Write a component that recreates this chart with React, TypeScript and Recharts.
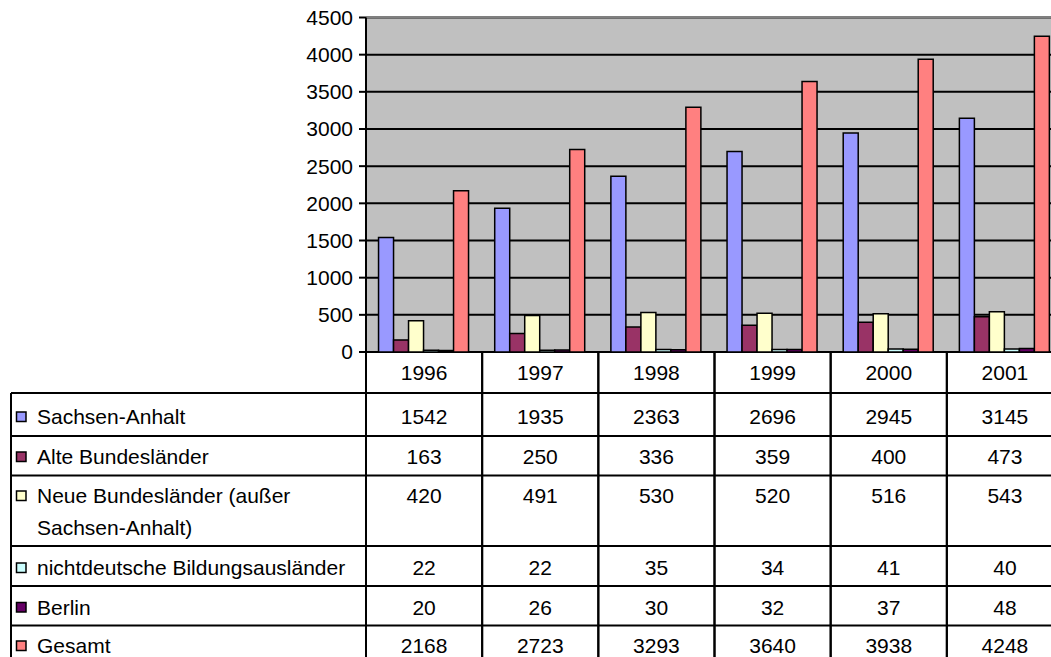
import React from 'react';
import { BarChart, Bar, XAxis, YAxis, CartesianGrid, ReferenceLine } from 'recharts';

const years = ['1996', '1997', '1998', '1999', '2000', '2001'];
const sachsenAnhalt = [1542, 1935, 2363, 2696, 2945, 3145];
const alteBundeslaender = [163, 250, 336, 359, 400, 473];
const neueBundeslaender = [420, 491, 530, 520, 516, 543];
const bildungsauslaender = [22, 22, 35, 34, 41, 40];
const berlin = [20, 26, 30, 32, 37, 48];
const gesamt = [2168, 2723, 3293, 3640, 3938, 4248];
const yTicks = [0, 500, 1000, 1500, 2000, 2500, 3000, 3500, 4000, 4500];

const seriesNames = [
  'Sachsen-Anhalt',
  'Alte Bundesländer',
  'Neue Bundesländer (außer Sachsen-Anhalt)',
  'nichtdeutsche Bildungsausländer',
  'Berlin',
  'Gesamt',
];
const legendLines = [
  ['Sachsen-Anhalt'],
  ['Alte Bundesländer'],
  ['Neue Bundesländer (außer', 'Sachsen-Anhalt)'],
  ['nichtdeutsche Bildungsausländer'],
  ['Berlin'],
  ['Gesamt'],
];
const seriesValues = [sachsenAnhalt, alteBundeslaender, neueBundeslaender, bildungsauslaender, berlin, gesamt];
const seriesKeys = ['sa', 'alte', 'neue', 'nicht', 'berlin', 'gesamt'];
const seriesColors = ['#9999FF', '#993366', '#FFFFCC', '#CCFFFF', '#660066', '#FF8080'];

const data = years.map((y, i) => {
  const row: Record<string, any> = { year: y };
  seriesKeys.forEach((k, s) => {
    row[k] = seriesValues[s][i];
  });
  return row;
});

// layout
const CHART_W = 1080;
const CHART_H = 657;
const PLOT_LEFT = 366;
const PLOT_RIGHT = 1063;
const PLOT_TOP = 17.5;
const PLOT_BOTTOM = 352;
const BAND = (PLOT_RIGHT - PLOT_LEFT) / years.length;
const YEAR_TEXT_Y = 372;
const ROW_TOPS = [393, 436, 475.5, 546, 586, 625.5];
const ROW_TEXT_Y = [416.5, 456.5, 495.5, 567.5, 607, 645.5];
const TABLE_BOTTOM = 667;
const LINE_H = 32;
const FONT = '"Liberation Sans", Arial, Helvetica, sans-serif';
const FS = 21;
const TABLE_LEFT = 11;

const ColumnTick = (props: any) => {
  const { x, payload, index } = props;
  const left = x - BAND / 2;
  const right = x + BAND / 2;
  return (
    <g>
      <line x1={left} y1={PLOT_BOTTOM} x2={left} y2={TABLE_BOTTOM} stroke="#000" strokeWidth={2} />
      <line x1={right} y1={PLOT_BOTTOM} x2={right} y2={TABLE_BOTTOM} stroke="#000" strokeWidth={2} />
      {ROW_TOPS.map((t, r) => (
        <line key={'h' + r} x1={left} y1={t} x2={right} y2={t} stroke="#000" strokeWidth={2} />
      ))}
      <text x={x} y={YEAR_TEXT_Y} textAnchor="middle" dominantBaseline="central"
        fontFamily={FONT} fontSize={FS} fill="#000">{payload.value}</text>
      {seriesValues.map((vals, r) => (
        <text key={'v' + r} x={x} y={ROW_TEXT_Y[r]} textAnchor="middle" dominantBaseline="central"
          fontFamily={FONT} fontSize={FS} fill="#000">{vals[index]}</text>
      ))}
    </g>
  );
};

const LegendColumn = () => (
  <svg width={1051} height={657} style={{ position: 'absolute', left: 0, top: 0, pointerEvents: 'none' }}>
    <line x1={TABLE_LEFT} y1={ROW_TOPS[0]} x2={TABLE_LEFT} y2={TABLE_BOTTOM} stroke="#000" strokeWidth={2} />
    {ROW_TOPS.map((t, r) => (
      <line key={'l' + r} x1={TABLE_LEFT} y1={t} x2={PLOT_LEFT} y2={t} stroke="#000" strokeWidth={2} />
    ))}
    {seriesNames.map((name, r) => (
      <g key={name}>
        <rect x={16.5} y={ROW_TEXT_Y[r] - 4.5} width={9.5} height={9.5} fill={seriesColors[r]} stroke="#000" strokeWidth={1.5} />
        {legendLines[r].map((ln, li) => (
          <text key={li} x={37} y={ROW_TEXT_Y[r] + li * LINE_H} dominantBaseline="central"
            fontFamily={FONT} fontSize={FS} fill="#000">{ln}</text>
        ))}
      </g>
    ))}
  </svg>
);

export default function App() {
  return (
    <div style={{ position: 'absolute', left: 0, top: 0, width: 1051, height: 657, overflow: 'hidden', background: '#fff' }}>
      <BarChart
        width={CHART_W}
        height={CHART_H}
        data={data}
        margin={{ top: PLOT_TOP, right: CHART_W - PLOT_RIGHT, bottom: 0, left: 0 }}
        barCategoryGap="10.8%"
        barGap={0}
      >
        <CartesianGrid vertical={false} stroke="#000" strokeWidth={2} fill="#C0C0C0" fillOpacity={1} />
        <ReferenceLine y={4500} stroke="#808080" strokeWidth={2} />
        <XAxis
          dataKey="year"
          height={CHART_H - PLOT_BOTTOM}
          axisLine={false}
          tickLine={false}
          tickSize={0}
          tick={<ColumnTick />}
          interval={0}
        />
        <YAxis
          width={PLOT_LEFT}
          domain={[0, 4500]}
          ticks={yTicks}
          interval={0}
          axisLine={{ stroke: '#000', strokeWidth: 2 }}
          tickLine={{ stroke: '#000', strokeWidth: 2 }}
          tickSize={7}
          tickMargin={6}
          tick={{ fontFamily: FONT, fontSize: FS, fill: '#000' }}
        />
        {seriesKeys.map((k, s) => (
          <Bar key={k} dataKey={k} name={seriesNames[s]} fill={seriesColors[s]} stroke="#000" strokeWidth={1.5}
            isAnimationActive={false} />
        ))}
      </BarChart>
      <LegendColumn />
    </div>
  );
}
